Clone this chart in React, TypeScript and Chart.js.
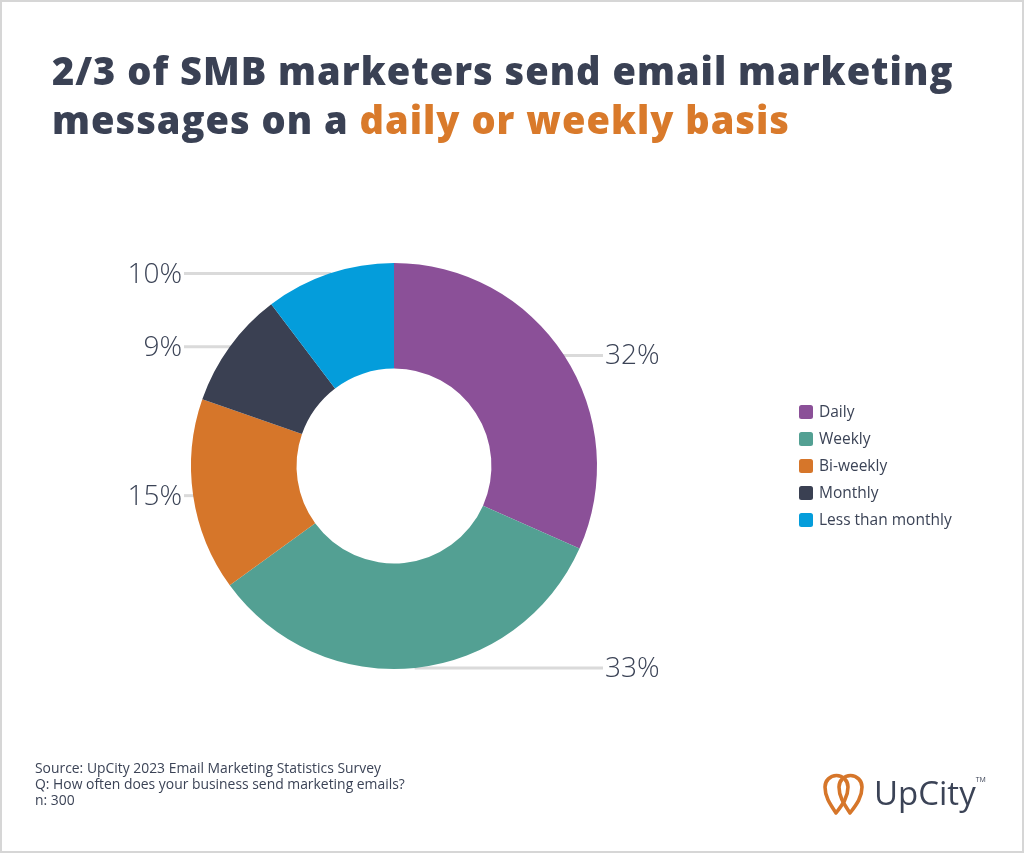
import React, { useEffect, useRef } from "react";
import { Chart, registerables } from "chart.js";

Chart.register(...registerables);

const categories = ["Daily", "Weekly", "Bi-weekly", "Monthly", "Less than monthly"];
const respondents = [95, 100, 46, 28, 31];
const sampleSize = 300;
const colors = ["#8b5098", "#53a093", "#d6762a", "#3a4052", "#049ddb"];

const TEXT = "#3b4356";

const labelPlugin = {
  id: "leaderLabels",
  beforeDatasetsDraw(chart: any) {
    const meta = chart.getDatasetMeta(0);
    const ctx = chart.ctx;
    ctx.save();
    ctx.strokeStyle = "#dadada";
    ctx.lineWidth = 3;
    meta.data.forEach((arc: any) => {
      const { x, y, startAngle, endAngle, outerRadius } = arc.getProps(["x", "y", "startAngle", "endAngle", "outerRadius"], true);
      const mid = (startAngle + endAngle) / 2;
      const px = x + Math.cos(mid) * (outerRadius - 6);
      const py = y + Math.sin(mid) * outerRadius;
      const right = Math.cos(mid) >= 0;
      ctx.beginPath();
      if (right) {
        ctx.moveTo(px, py);
        ctx.lineTo(603, py);
      } else {
        ctx.moveTo(184, py);
        ctx.lineTo(px, py);
      }
      ctx.stroke();
    });
    ctx.restore();
  },
  afterDraw(chart: any) {
    const meta = chart.getDatasetMeta(0);
    const ctx = chart.ctx;
    ctx.save();
    ctx.font = "300 28px 'Open Sans'";
    ctx.fillStyle = TEXT;
    ctx.textBaseline = "middle";
    meta.data.forEach((arc: any, i: number) => {
      const { x, y, startAngle, endAngle, outerRadius } = arc.getProps(["x", "y", "startAngle", "endAngle", "outerRadius"], true);
      const mid = (startAngle + endAngle) / 2;
      const py = y + Math.sin(mid) * outerRadius;
      const right = Math.cos(mid) >= 0;
      const txt = Math.round((respondents[i] / sampleSize) * 100) + "%";
      if (right) {
        ctx.textAlign = "left";
        ctx.fillText(txt, 605, py + 1);
      } else {
        ctx.textAlign = "right";
        ctx.fillText(txt, 182, py + 1);
      }
    });
    // legend
    ctx.font = "400 15.5px 'Open Sans'";
    ctx.textAlign = "left";
    categories.forEach((c, i) => {
      const cy = 412 + i * 27;
      ctx.fillStyle = colors[i];
      ctx.beginPath();
      (ctx as any).roundRect(799, cy - 7, 14, 14, 2.5);
      ctx.fill();
      ctx.fillStyle = TEXT;
      ctx.fillText(c, 819, cy + 1);
    });
    ctx.restore();
  },
};

export default function App() {
  const ref = useRef<HTMLCanvasElement>(null);
  useEffect(() => {
    const chart = new Chart(ref.current!, {
      type: "doughnut",
      data: {
        labels: categories,
        datasets: [
          {
            data: respondents,
            backgroundColor: colors,
            borderWidth: 0,
          },
        ],
      },
      options: {
        animation: false,
        responsive: false,
        maintainAspectRatio: false,
        cutout: "48%",
        layout: { padding: { left: 191, right: 427, top: 263, bottom: 184 } },
        plugins: {
          legend: { display: false },
          tooltip: { enabled: false },
          title: { display: false },
        },
      },
      plugins: [labelPlugin],
    });
    return () => chart.destroy();
  }, []);

  return (
    <div
      style={{
        position: "fixed",
        left: 0,
        top: 0,
        width: 1024,
        height: 853,
        background: "#fff",
        boxSizing: "border-box",
        border: "2px solid #d6d6d6",
        fontFamily: "'Open Sans', sans-serif",
        overflow: "hidden",
      }}
    >
      <canvas ref={ref} width={1024} height={853} style={{ position: "absolute", left: -2, top: -2 }} />
      <div
        style={{
          position: "absolute",
          left: 50,
          top: 44,
          fontSize: 38,
          lineHeight: "49px",
          fontWeight: 800,
          letterSpacing: 1,
          color: "#3a4154",
          whiteSpace: "nowrap",
        }}
      >
        <div>2/3 of SMB marketers send email marketing</div>
        <div>
          messages on a <span style={{ color: "#d97a2b" }}>daily or weekly basis</span>
        </div>
      </div>
      <div
        style={{
          position: "absolute",
          left: 33,
          top: 758,
          fontSize: 13.9,
          lineHeight: "16px",
          color: TEXT,
          whiteSpace: "nowrap",
        }}
      >
        <div>Source: UpCity 2023 Email Marketing Statistics Survey</div>
        <div>Q: How often does your business send marketing emails?</div>
        <div>n: 300</div>
      </div>
      <div style={{ position: "absolute", left: 820, top: 765, display: "flex", alignItems: "center" }}>
        <svg width="50" height="50" viewBox="0 0 50 50">
          <g fill="none" stroke="#d6762a" strokeWidth="3.6" strokeLinejoin="round">
            <path d="M14 46 C8 37 3 30 3 20 A11.5 11.5 0 0 1 26 20 C26 30 21 37 14 46 Z" />
            <path d="M28 46 C22 37 17 30 17 20 A11.5 11.5 0 0 1 40 20 C40 30 35 37 28 46 Z" />
          </g>
        </svg>
        <span style={{ fontSize: 33, fontWeight: 500, color: TEXT, marginLeft: 2 }}>UpCity</span>
        <span style={{ fontSize: 7, color: TEXT, alignSelf: "flex-start", marginTop: 8 }}>TM</span>
      </div>
    </div>
  );
}
